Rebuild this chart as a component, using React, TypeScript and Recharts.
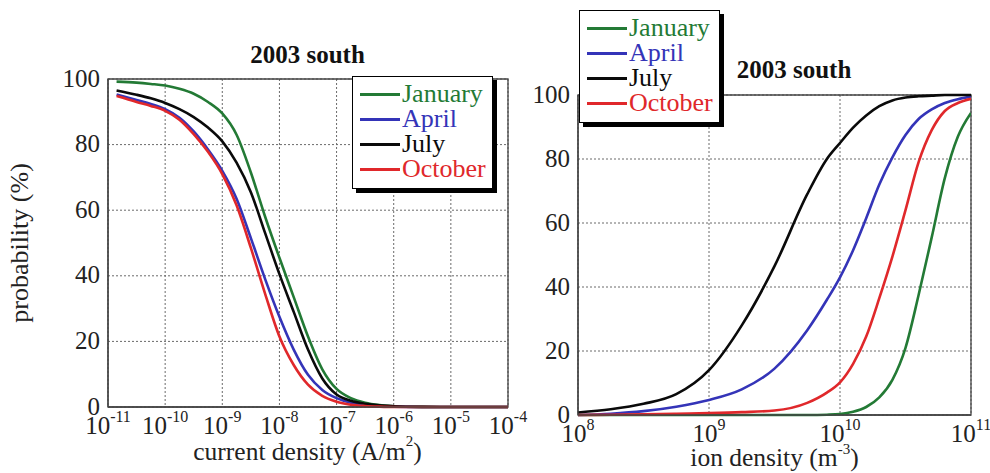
import React from 'react';
import { LineChart, Line, XAxis, YAxis, CartesianGrid, Legend, ReferenceArea } from 'recharts';

// ---- Left panel: current density (log10 exponent of A/m^2) ----
const currentExp = [-10.85, -10.5, -10.25, -10, -9.75, -9.5, -9.25, -9, -8.75, -8.5, -8.25, -8, -7.75, -7.5, -7.25, -7, -6.75, -6.5, -6.25, -6, -5.5, -5, -4.5, -4];
const currentJanuary = [99.2, 98.9, 98.5, 98, 97, 95.5, 93, 89.5, 83, 71.5, 58, 45.5, 33.5, 21.5, 11.5, 5.5, 2.7, 1.3, 0.6, 0.25, 0.05, 0, 0, 0];
const currentApril = [95.3, 93.6, 92.4, 90.8, 88.2, 84, 78.5, 72, 63.5, 51.5, 39, 27.5, 17.5, 9.8, 5.2, 2.7, 1.3, 0.6, 0.25, 0.1, 0, 0, 0, 0];
const currentJuly = [96.5, 95.2, 94.1, 92.7, 90.8, 88.4, 85.2, 81, 74.5, 65.5, 53, 40.5, 29, 17.5, 8.7, 3.8, 1.9, 1, 0.5, 0.25, 0.05, 0, 0, 0];
const currentOctober = [94.8, 93, 91.8, 90.3, 87.6, 83.2, 77.8, 71, 61.5, 48.5, 34.5, 21.5, 12.8, 6.8, 3.4, 1.6, 0.7, 0.3, 0.1, 0, 0, 0, 0, 0];
const currentTicks = [-11, -10, -9, -8, -7, -6, -5, -4];

// ---- Right panel: ion density (log10 exponent of m^-3) ----
const ionExp = [8, 8.25, 8.5, 8.75, 9, 9.25, 9.5, 9.75, 9.9, 10, 10.1, 10.2, 10.3, 10.4, 10.5, 10.6, 10.7, 10.8, 10.9, 11];
const ionJanuary = [0, 0, 0, 0, 0, 0, 0, 0, 0.1, 0.3, 1, 2.5, 5.5, 11, 21, 37.5, 55.5, 74, 87, 94.4];
const ionApril = [0, 0.4, 1.2, 2.6, 4.7, 8, 14.5, 26.5, 36, 43, 51.5, 61.5, 72, 80.5, 87.5, 92.5, 95.5, 97.5, 98.7, 99.5];
const ionJuly = [0.8, 1.8, 3.5, 6.5, 14, 28, 46.5, 69, 80, 85, 89.8, 93.6, 96.5, 98.3, 99.2, 99.6, 99.8, 100, 100, 100];
const ionOctober = [0, 0.1, 0.2, 0.4, 0.6, 0.9, 1.4, 3.8, 7, 10.2, 16, 24.5, 36.5, 49.5, 64, 79, 89, 95, 97.5, 98.8];
const ionTicks = [8, 9, 10, 11];

const probTicks = [0, 20, 40, 60, 80, 100];
const seriesNames = ['January', 'April', 'July', 'October'];
const seriesColors: Record<string, string> = {
  January: '#237a35',
  April: '#3434b8',
  July: '#0a0a0a',
  October: '#e0282b',
};

const currentData = currentExp.map((e, i) => ({
  e,
  January: currentJanuary[i],
  April: currentApril[i],
  July: currentJuly[i],
  October: currentOctober[i],
}));
const ionData = ionExp.map((e, i) => ({
  e,
  January: ionJanuary[i],
  April: ionApril[i],
  July: ionJuly[i],
  October: ionOctober[i],
}));

const FONT = '"Liberation Serif", "Times New Roman", Times, serif';
const TEXT = '#222';

const ExpTick = (props: any) => {
  const { x, y, payload } = props;
  return (
    <text x={x} y={y + 19} textAnchor="middle" fontFamily={FONT} fontSize={25} fill={TEXT}>
      <tspan>10</tspan>
      <tspan dy={-12} fontSize={16}>{String(payload.value)}</tspan>
    </text>
  );
};

const ProbTick = (props: any) => {
  const { x, y, payload } = props;
  return (
    <text x={x} y={y} dy={7.5} textAnchor="end" fontFamily={FONT} fontSize={25} fill={TEXT}>
      {payload.value}
    </text>
  );
};

const makeLegend = (lineW: number) => () => (
  <div
    style={{
      background: '#fff',
      border: '1.5px solid #000',
      boxShadow: '4px 4px 0 #000',
      padding: '4px 6px 7px 7px',
      fontFamily: FONT,
      fontSize: 26,
      lineHeight: '25px',
      whiteSpace: 'nowrap',
    }}
  >
    {seriesNames.map((n) => (
      <div key={n} style={{ display: 'flex', alignItems: 'center', height: 25 }}>
        <span
          style={{
            display: 'inline-block',
            width: lineW,
            height: 3,
            background: seriesColors[n],
            marginRight: 2,
            marginTop: 2,
          }}
        />
        <span style={{ color: seriesColors[n] }}>{n}</span>
      </div>
    ))}
  </div>
);

const LeftLegend = makeLegend(40);
const RightLegend = makeLegend(40);

const Panel = ({ data, ticks, width, yAxisWidth, margin, legendPos, Leg }: any) => (
  <LineChart width={width} height={473} data={data} margin={margin}>
    <CartesianGrid stroke="#6a6a6a" strokeDasharray="2 2" strokeWidth={1} />
    <ReferenceArea
      x1={ticks[0]}
      x2={ticks[ticks.length - 1]}
      y1={0}
      y2={100}
      fill="none"
      stroke="#444"
      strokeWidth={1.3}
      fillOpacity={0}
    />
    <XAxis
      dataKey="e"
      type="number"
      domain={[ticks[0], ticks[ticks.length - 1]]}
      ticks={ticks}
      allowDataOverflow
      height={40}
      tickLine={false}
      axisLine={{ stroke: '#444', strokeWidth: 1.3 }}
      tick={<ExpTick />}
      interval={0}
    />
    <YAxis
      type="number"
      domain={[0, 100]}
      ticks={probTicks}
      width={yAxisWidth}
      tickLine={false}
      axisLine={{ stroke: '#444', strokeWidth: 1.3 }}
      tick={<ProbTick />}
      interval={0}
    />
    {seriesNames.map((n) => (
      <Line
        key={n}
        type="monotone"
        dataKey={n}
        stroke={seriesColors[n]}
        strokeWidth={2.6}
        dot={false}
        activeDot={false}
        isAnimationActive={false}
      />
    ))}
    <Legend
      layout="vertical"
      align="center"
      verticalAlign="middle"
      content={<Leg />}
      wrapperStyle={{ left: legendPos.left, top: legendPos.top, width: 'auto', height: 'auto' }}
    />
  </LineChart>
);

export default function App() {
  return (
    <div style={{ position: 'absolute', left: 0, top: 0, width: 990, height: 473, background: '#fff', overflow: 'hidden' }}>
      <div style={{ position: 'absolute', left: 0, top: 0 }}>
        <Panel
          data={currentData}
          ticks={currentTicks}
          width={530}
          yAxisWidth={108}
          margin={{ top: 79, right: 22, left: 0, bottom: 26 }}
          legendPos={{ left: 352, top: 76 }}
          Leg={LeftLegend}
        />
      </div>
      <div style={{ position: 'absolute', left: 520, top: 0 }}>
        <Panel
          data={ionData}
          ticks={ionTicks}
          width={470}
          yAxisWidth={58}
          margin={{ top: 95, right: 19, left: 0, bottom: 18 }}
          legendPos={{ left: 59, top: 10 }}
          Leg={RightLegend}
        />
      </div>
      <svg width={990} height={473} style={{ position: 'absolute', left: 0, top: 0, pointerEvents: 'none' }}>
        <text x={307.5} y={63} textAnchor="middle" fontFamily={FONT} fontWeight="bold" fontSize={25} fill="#111">
          2003 south
        </text>
        <text x={794} y={78} textAnchor="middle" fontFamily={FONT} fontWeight="bold" fontSize={25} fill="#111">
          2003 south
        </text>
        <text
          x={0}
          y={0}
          transform="translate(28,243) rotate(-90)"
          textAnchor="middle"
          fontFamily={FONT}
          fontSize={26}
          fill={TEXT}
        >
          probability (%)
        </text>
        <text x={307.5} y={460} textAnchor="middle" fontFamily={FONT} fontSize={25.5} fill={TEXT}>
          <tspan>current density (A/m</tspan>
          <tspan dy={-14} fontSize={15}>2</tspan>
          <tspan dy={14}>)</tspan>
        </text>
        <text x={774.5} y={466} textAnchor="middle" fontFamily={FONT} fontSize={25.5} fill={TEXT}>
          <tspan>ion density (m</tspan>
          <tspan dy={-12} fontSize={15}>-3</tspan>
          <tspan dy={12}>)</tspan>
        </text>
      </svg>
    </div>
  );
}
